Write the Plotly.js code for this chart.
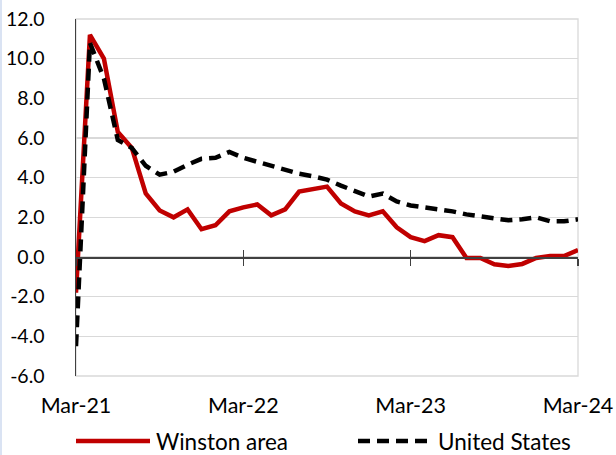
<!DOCTYPE html>
<html>
<head>
<meta charset="utf-8">
<script src="https://cdn.plot.ly/plotly-3.0.1.min.js"></script>
<style>
html,body{margin:0;padding:0;background:#fff;}
#wrap{position:relative;width:616px;height:455px;}
#chart{width:616px;height:455px;}
#edge{position:absolute;left:0;top:0;width:2px;height:455px;background:#dae3f3;}
</style>
</head>
<body>
<div id="wrap"><div id="chart"></div><div id="edge"></div></div>
<script>
const months = ["Mar-21","Apr-21","May-21","Jun-21","Jul-21","Aug-21","Sep-21","Oct-21","Nov-21","Dec-21",
  "Jan-22","Feb-22","Mar-22","Apr-22","May-22","Jun-22","Jul-22","Aug-22","Sep-22","Oct-22","Nov-22","Dec-22",
  "Jan-23","Feb-23","Mar-23","Apr-23","May-23","Jun-23","Jul-23","Aug-23","Sep-23","Oct-23","Nov-23","Dec-23",
  "Jan-24","Feb-24","Mar-24"];
const winston = [-1.8, 11.2, 10.0, 6.3, 5.5, 3.2, 2.35, 2.0, 2.4, 1.4,
  1.6, 2.3, 2.5, 2.65, 2.1, 2.4, 3.3, 3.4, 3.55, 2.7, 2.3, 2.1,
  2.3, 1.5, 1.0, 0.8, 1.1, 1.0, -0.05, -0.05, -0.37, -0.45, -0.35, -0.05,
  0.05, 0.05, 0.35];
const unitedStates = [-4.5, 10.8, 9.0, 5.9, 5.5, 4.6, 4.15, 4.3, 4.65, 4.95,
  5.0, 5.3, 5.0, 4.8, 4.6, 4.4, 4.2, 4.07, 3.9, 3.6, 3.3, 3.05,
  3.2, 2.8, 2.6, 2.5, 2.45, 2.3, 2.15, 2.05, 1.95, 1.85, 1.9, 2.0,
  1.8, 1.8, 1.9];
const tickLabels = ["Mar-21","Mar-22","Mar-23","Mar-24"];
const yTicks = [-6,-4,-2,0,2,4,6,8,10,12];
const seriesNames = ["Winston area","United States"];

const FONT = "Lato, 'Open Sans', sans-serif";
const red = "#c00000";

const traces = [
  {x: months, y: winston, type: "scatter", mode: "lines", name: seriesNames[0],
   line: {color: red, width: 4.5}, showlegend: false},
  {x: months, y: unitedStates, type: "scatter", mode: "lines", name: seriesNames[1],
   line: {color: "#000000", width: 4.5, dash: "12px,7px"}, showlegend: false}
];

const px = v => (v - 76) / 502;
const py = v => (376 - v) / 357;

const layout = {
  width: 616, height: 455,
  margin: {l: 76, r: 38, t: 19, b: 79},
  paper_bgcolor: "#ffffff", plot_bgcolor: "#ffffff",
  font: {family: FONT, size: 19, color: "#000000"},
  xaxis: {
    type: "category", categoryorder: "array", categoryarray: months,
    range: [0, 36], tickmode: "array", tickvals: tickLabels, ticktext: tickLabels,
    showgrid: false, zeroline: false, showline: false, ticks: "",
    tickfont: {family: FONT, size: 21.5, color: "#000"},
    ticklabelstandoff: 14, fixedrange: true
  },
  xaxis2: {
    type: "category", categoryorder: "array", categoryarray: months,
    range: [0, 36], overlaying: "x", anchor: "free", position: 6/18,
    tickmode: "array", tickvals: tickLabels, showticklabels: false,
    showgrid: false, zeroline: false, showline: true, linecolor: "#404040", linewidth: 1.5,
    ticks: "outside", ticklen: 7, tickwidth: 1.5, tickcolor: "#404040"
  },
  xaxis3: {
    type: "category", categoryorder: "array", categoryarray: months,
    range: [0, 36], overlaying: "x", anchor: "free", position: 6/18,
    tickmode: "array", tickvals: tickLabels, showticklabels: false,
    showgrid: false, zeroline: false, showline: false,
    ticks: "inside", ticklen: 7, tickwidth: 1.5, tickcolor: "#404040"
  },
  yaxis: {
    range: [-6, 12], tickmode: "array", tickvals: yTicks,
    ticktext: yTicks.map(v => v.toFixed(1)),
    tickfont: {family: FONT, size: 19.5, color: "#000"},
    showgrid: true, gridcolor: "#d9d9d9", gridwidth: 1.3,
    zeroline: false, showline: true, linecolor: "#404040", linewidth: 1.5,
    ticks: "", ticklabelstandoff: 26, fixedrange: true
  },
  shapes: [
    {type: "rect", xref: "paper", yref: "paper", x0: 0, x1: 1, y0: 0, y1: 1,
     line: {color: "#d9d9d9", width: 1.3}, layer: "below"},
    {type: "line", xref: "paper", yref: "paper", x0: px(76), x1: px(150), y0: py(441), y1: py(441),
     line: {color: red, width: 4.5}},
    {type: "line", xref: "paper", yref: "paper", x0: px(358), x1: px(432), y0: py(441), y1: py(441),
     line: {color: "#000000", width: 4.5, dash: "12px,7px"}}
  ],
  annotations: [
    {xref: "paper", yref: "paper", x: px(154), y: py(441), xanchor: "left", yanchor: "middle",
     text: seriesNames[0], showarrow: false, font: {family: FONT, size: 22.5, color: "#000"}},
    {xref: "paper", yref: "paper", x: px(436), y: py(441), xanchor: "left", yanchor: "middle",
     text: seriesNames[1], showarrow: false, font: {family: FONT, size: 22.5, color: "#000"}}
  ]
};

traces.push({x: [months[0]], y: [null], xaxis: "x2", type: "scatter", mode: "lines", showlegend: false, hoverinfo: "skip"});
traces.push({x: [months[0]], y: [null], xaxis: "x3", type: "scatter", mode: "lines", showlegend: false, hoverinfo: "skip"});

Plotly.newPlot("chart", traces, layout, {staticPlot: true, displayModeBar: false});
</script>
</body>
</html>
